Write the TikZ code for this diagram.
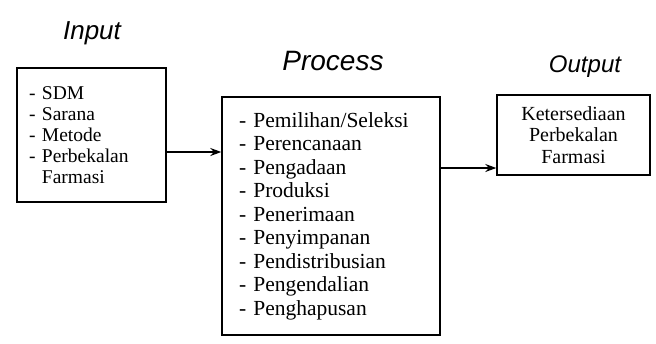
\documentclass[tikz,border=0pt]{standalone}
\usepackage{fontspec}
\usetikzlibrary{arrows.meta}
\setmainfont{Liberation Serif}
\newfontfamily\titlefont{Liberation Sans}
\begin{document}
\begin{tikzpicture}[>={Stealth[length=11pt,width=8pt]}, x=1pt, y=-1pt, line width=1.4pt,
  box/.style={draw, inner sep=0pt},
  heading/.style={font=\titlefont\itshape\fontsize{26}{30}\selectfont}]
\useasboundingbox (0,0) rectangle (656,343);
\node[heading] (tin) at (92,33) {Input};
\node[heading, font=\titlefont\itshape\fontsize{28}{32}\selectfont] (tproc) at (333,61) {Process};
\node[heading, font=\titlefont\itshape\fontsize{24}{28}\selectfont] (tout) at (585,67) {Output};

\node[box, minimum width=149pt, minimum height=134pt, text width=125pt, align=left, font=\fontsize{19.5}{21}\selectfont] (in) at (91.5,135) {- SDM\\- Sarana\\- Metode\\- Perbekalan\\\phantom{- }Farmasi};
\node[box, minimum width=218pt, minimum height=238pt, text width=184pt, align=left, font=\fontsize{21.5}{23.5}\selectfont] (proc) at (331,216) {- Pemilihan/Seleksi\\- Perencanaan\\- Pengadaan\\- Produksi\\- Penerimaan\\- Penyimpanan\\- Pendistribusian\\- Pengendalian\\- Penghapusan};
\node[box, minimum width=153pt, minimum height=80pt, text width=140pt, align=center, font=\fontsize{20}{21.5}\selectfont] (out) at (573.5,135) {Ketersediaan\\Perbekalan\\Farmasi};

\draw[->] ([yshift=-17pt]in.east) -- ([yshift=-17pt]in.east -| proc.west);
\draw[->] ([yshift=-33pt]out.west -| proc.east) -- ([yshift=-33pt]out.west);
\end{tikzpicture}
\end{document}
